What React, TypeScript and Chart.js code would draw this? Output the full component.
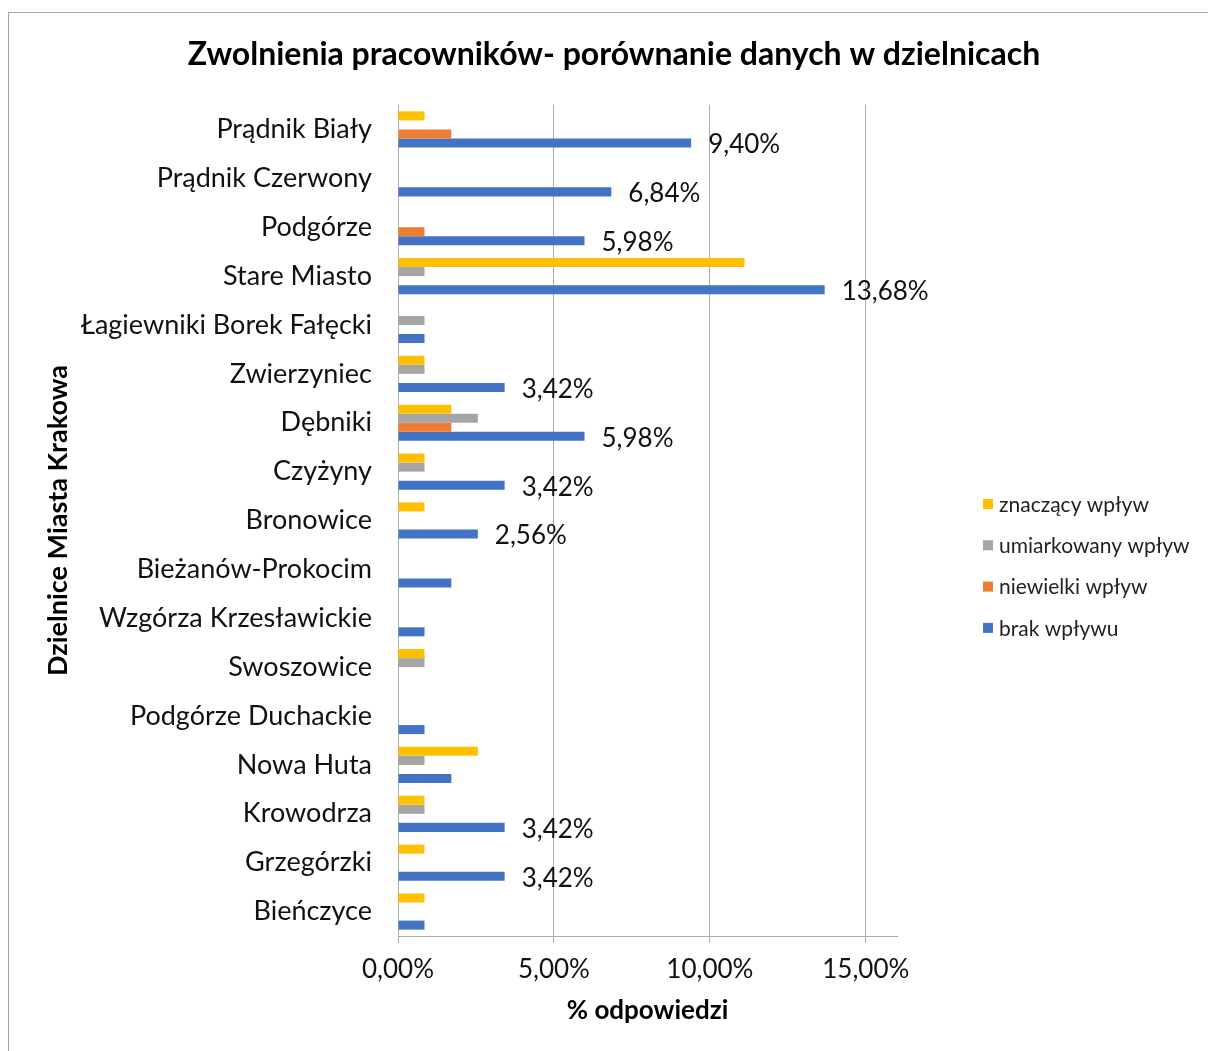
import React, { useEffect, useRef } from "react";
import { Chart, registerables } from "chart.js";

Chart.register(...registerables);

const categories = [
  "Prądnik Biały",
  "Prądnik Czerwony",
  "Podgórze",
  "Stare Miasto",
  "Łagiewniki Borek Fałęcki",
  "Zwierzyniec",
  "Dębniki",
  "Czyżyny",
  "Bronowice",
  "Bieżanów-Prokocim",
  "Wzgórza Krzesławickie",
  "Swoszowice",
  "Podgórze Duchackie",
  "Nowa Huta",
  "Krowodrza",
  "Grzegórzki",
  "Bieńczyce",
];

const seriesNames = ["znaczący wpływ", "umiarkowany wpływ", "niewielki wpływ", "brak wpływu"];
const seriesColors = ["#FFC000", "#A5A5A5", "#ED7D31", "#4472C4"];

const znaczacy = [0.85, 0, 0, 11.11, 0, 0.85, 1.71, 0.85, 0.85, 0, 0, 0.85, 0, 2.56, 0.85, 0.85, 0.85];
const umiarkowany = [0, 0, 0, 0.85, 0.85, 0.85, 2.56, 0.85, 0, 0, 0, 0.85, 0, 0.85, 0.85, 0, 0];
const niewielki = [1.71, 0, 0.85, 0, 0, 0, 1.71, 0, 0, 0, 0, 0, 0, 0, 0, 0, 0];
const brak = [9.4, 6.84, 5.98, 13.68, 0.85, 3.42, 5.98, 3.42, 2.56, 1.71, 0.85, 0, 0.85, 1.71, 3.42, 3.42, 0.85];

const xTicks = [0, 5, 10, 15];
const xMax = 16;
const labelThreshold = 2;

const title = "Zwolnienia pracowników- porównanie danych w dzielnicach";
const yTitle = "Dzielnice Miasta Krakowa";
const xTitle = "% odpowiedzi";

const fmt = (v: number) => v.toFixed(2).replace(".", ",") + "%";

const GRID = "#ADADAD";
const TEXT = "#111111";

const titlePlugin = {
  id: "customTitle",
  afterDraw(chart: any) {
    const ctx = chart.ctx;
    ctx.save();
    ctx.font = "bold 32px Lato";
    ctx.fillStyle = "#000000";
    ctx.textAlign = "center";
    ctx.textBaseline = "alphabetic";
    ctx.fillText(title, chart.width / 2 + 6, 53);
    ctx.restore();
  },
};

const dataLabelsPlugin = {
  id: "blueLabels",
  afterDatasetsDraw(chart: any) {
    const ctx = chart.ctx;
    const idx = 3;
    const meta = chart.getDatasetMeta(idx);
    const data = chart.data.datasets[idx].data as number[];
    ctx.save();
    ctx.font = "26px Lato";
    ctx.fillStyle = TEXT;
    ctx.textAlign = "left";
    ctx.textBaseline = "middle";
    meta.data.forEach((bar: any, i: number) => {
      if (data[i] > labelThreshold) {
        ctx.fillText(fmt(data[i]), bar.x + 17, bar.y + 2);
      }
    });
    ctx.restore();
  },
};

const legendPlugin = {
  id: "customLegend",
  afterDraw(chart: any) {
    const ctx = chart.ctx;
    const area = chart.chartArea;
    const x0 = area.right + 86;
    const y0 = 492;
    const step = 41.3;
    ctx.save();
    ctx.font = "21px Lato";
    ctx.textBaseline = "middle";
    ctx.textAlign = "left";
    seriesNames.forEach((name, i) => {
      const cy = y0 + i * step;
      ctx.fillStyle = seriesColors[i];
      ctx.fillRect(x0, cy - 5, 10, 10);
      ctx.fillStyle = "#222222";
      ctx.fillText(name, x0 + 16, cy + 1);
    });
    ctx.restore();
  },
};

export default function App() {
  const ref = useRef<HTMLCanvasElement | null>(null);

  useEffect(() => {
    if (!ref.current) return;
    Chart.defaults.font.family = "Lato";
    const values = [znaczacy, umiarkowany, niewielki, brak];
    const chart = new Chart(ref.current, {
      type: "bar",
      data: {
        labels: categories,
        datasets: seriesNames.map((name, i) => ({
          label: name,
          data: values[i],
          backgroundColor: seriesColors[i],
          borderWidth: 0,
          categoryPercentage: 0.74,
          barPercentage: 1,
        })),
      },
      options: {
        indexAxis: "y",
        animation: false,
        responsive: false,
        layout: { padding: { left: 0, right: 311, top: 93, bottom: 0 } },
        plugins: {
          legend: { display: false },
          tooltip: { enabled: false },
          title: { display: false },
        },
        scales: {
          x: {
            min: 0,
            max: xMax,
            afterBuildTicks: (s: any) => {
              s.ticks = xTicks.map((v) => ({ value: v }));
            },
            afterFit: (s: any) => {
              s.height = 115;
            },
            ticks: {
              stepSize: 5,
              includeBounds: false,
              padding: 11,
              color: TEXT,
              font: { family: "Lato", size: 26 },
              callback: (v: any) => fmt(Number(v)),
              maxRotation: 0,
            },
            grid: { color: GRID, lineWidth: 1, drawTicks: true, tickLength: 7, tickColor: GRID },
            border: { display: true, color: GRID },
            title: {
              display: true,
              text: xTitle,
              color: "#000000",
              font: { family: "Lato", size: 26, weight: "bold" },
              padding: { top: 0, bottom: 25 },
            },
          },
          y: {
            afterFit: (s: any) => {
              s.width = 390;
            },
            ticks: {
              padding: 26,
              color: TEXT,
              font: { family: "Lato", size: 27 },
              autoSkip: false,
            },
            grid: { display: false, drawTicks: false, tickLength: 0 },
            border: { display: true, color: GRID },
            title: {
              display: true,
              text: yTitle,
              color: "#000000",
              font: { family: "Lato", size: 27, weight: "bold" },
              padding: { top: 34, bottom: 0 },
            },
          },
        },
      },
      plugins: [titlePlugin, dataLabelsPlugin, legendPlugin],
    });
    return () => chart.destroy();
  }, []);

  return (
    <div>
      <div
        style={{
          position: "fixed",
          left: 8,
          top: 12,
          width: 1300,
          height: 1200,
          borderLeft: "1px solid #A6A6A6",
          borderTop: "1px solid #A6A6A6",
          boxSizing: "border-box",
        }}
      />
      <canvas
        ref={ref}
        width={1200}
        height={1039}
        style={{ position: "fixed", left: 8, top: 12, width: 1200, height: 1039 }}
      />
    </div>
  );
}
